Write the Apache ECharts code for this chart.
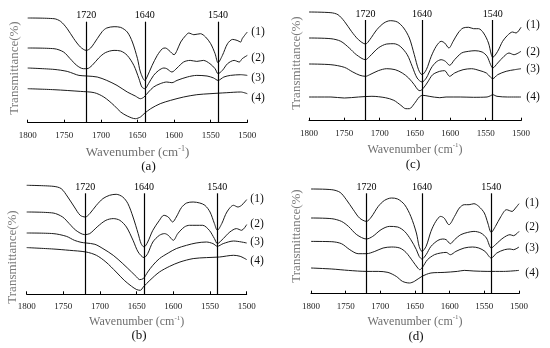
<!DOCTYPE html>
<html>
<head>
<meta charset="utf-8">
<script src="https://cdn.jsdelivr.net/npm/echarts@6/dist/echarts.min.js"></script>
<style>html,body{margin:0;padding:0;background:#fff}#c{width:550px;height:348px}</style>
</head>
<body>
<div id="c"></div>
<script>
// ---- data: [wavenumber (cm-1), relative transmittance (arb.)] ----
const a1 = [[1800,104.7],[1764,104],[1755,101.3],[1746,94],[1737,84],[1728,75.7],[1720,72.3],[1714,74.7],[1705,84],[1698,91.3],[1692,94.7],[1682,96],[1673,95.3],[1664,90.7],[1657,80.7],[1650,64],[1646,50.7],[1640,42.3],[1637,45.7],[1630,57.3],[1623,67.3],[1616,74],[1612,74.7],[1607,72.3],[1600,68],[1596,72.3],[1591,80.7],[1584,87.3],[1580,89.7],[1573,88],[1564,89],[1557,85.7],[1550,79],[1544,69],[1540,60],[1534,67.3],[1527,79],[1520,83.3],[1514,82.3],[1509,80.7],[1507,84],[1500,90.7]];
const a2 = [[1800,74.7],[1764,74],[1751,70.7],[1742,64],[1733,57.3],[1724,54],[1719,54],[1712,57.3],[1703,64.7],[1694,70],[1682,72.3],[1673,71.7],[1664,67.3],[1655,57.3],[1648,44],[1644,35.7],[1640,34],[1635,39],[1628,47.3],[1621,52.3],[1614,54.7],[1610,54],[1603,50.7],[1596,54.7],[1587,60.7],[1578,62.3],[1569,61.3],[1560,62.3],[1551,59],[1544,54],[1540,49],[1534,52.3],[1527,59],[1518,62.3],[1511,60.7],[1507,64],[1500,67.3]];
const a3 = [[1800,54.7],[1764,53.3],[1746,51.3],[1737,49],[1730,47.3],[1719,46.7],[1705,45.7],[1692,42.3],[1678,37.3],[1664,30.7],[1653,26.7],[1646,24],[1641,25.7],[1635,30.7],[1628,35.7],[1619,39],[1610,40.7],[1603,40],[1596,42.3],[1582,45.7],[1569,47.3],[1555,46.7],[1546,44.7],[1540,42.3],[1532,45.7],[1523,47.3],[1509,48],[1500,47.3]];
const a4 = [[1800,34],[1764,33],[1728,31.3],[1709,30],[1696,25.7],[1682,17.3],[1673,10.7],[1664,6.7],[1653,4],[1646,5.7],[1641,9],[1632,14],[1619,19],[1605,22.3],[1587,25.7],[1569,28],[1551,29],[1528,30],[1509,30.7],[1500,29]];

const b1 = [[1800,109],[1764,108],[1753,105.7],[1744,97.3],[1735,87.3],[1727,79],[1720,77.3],[1714,80.7],[1705,89],[1696,95.7],[1687,99],[1678,100],[1669,97.3],[1662,90.7],[1655,77.3],[1648,60.7],[1644,50.7],[1640,47.3],[1635,52.3],[1628,64],[1619,74],[1613,79],[1607,77.3],[1601,72.3],[1596,77.3],[1589,86.7],[1582,91.3],[1573,92.3],[1564,91.3],[1557,89],[1550,82.3],[1544,70.7],[1540,64],[1534,70.7],[1527,82.3],[1518,89],[1512,87.3],[1507,89],[1500,94.7]];
const b2 = [[1800,82.3],[1764,81.3],[1751,77.3],[1742,70.7],[1733,64],[1721,59.7],[1714,60.7],[1703,68],[1692,74],[1682,75.7],[1673,74],[1664,67.3],[1655,54],[1648,42.3],[1640,36.7],[1635,40.7],[1628,52.3],[1619,59],[1612,60.7],[1607,59],[1600,54],[1594,60.7],[1585,67.3],[1578,69],[1569,69],[1560,69],[1551,64],[1544,55.7],[1540,50.7],[1532,55.7],[1523,62.3],[1514,65.7],[1507,64],[1500,69.7]];
const b3 = [[1800,61.3],[1764,60.7],[1746,58],[1735,54],[1726,52],[1719,51.3],[1707,50],[1696,45.7],[1682,39],[1669,30.7],[1657,22.3],[1650,17.3],[1646,14.7],[1641,15.7],[1635,22.3],[1628,29],[1619,35.7],[1607,41.3],[1596,45.7],[1582,49],[1569,51.3],[1555,52.3],[1546,50.7],[1540,48],[1532,50.7],[1518,53.3],[1500,51.3]];
const b4 = [[1800,46.7],[1764,45.3],[1742,44],[1719,42.3],[1705,39],[1692,32.3],[1678,22.3],[1667,14],[1657,8],[1650,4.7],[1645,4],[1641,7.3],[1632,14],[1619,22.3],[1605,28],[1591,32.3],[1573,35.7],[1555,36.7],[1537,37.3],[1518,39],[1509,38],[1500,34.7]];

const c1 = [[1800,110],[1769,109.3],[1759,107.3],[1750,100.7],[1740,90.7],[1730,82.3],[1720,78],[1714,82.3],[1704,92.3],[1694,99],[1685,101.3],[1675,100],[1666,94],[1658,84],[1651,67.3],[1645,52.3],[1640,47.3],[1634,52.3],[1627,65.7],[1620,75.7],[1613,80.7],[1608,79],[1602,74],[1596,80.7],[1589,89],[1582,94],[1574,94.7],[1567,93.3],[1560,93.3],[1553,89],[1546,79],[1542,67.3],[1540,64.7],[1533,70.7],[1526,80.7],[1519,86.7],[1512,90],[1507,89],[1500,94.7]];
const c2 = [[1800,84],[1769,83.3],[1755,80.7],[1743,74],[1733,67.3],[1720,62.3],[1714,65.7],[1702,74],[1690,78],[1680,78.3],[1671,75.7],[1661,67.3],[1654,55.7],[1647,44],[1640,40],[1634,44],[1627,54],[1620,60],[1613,62.3],[1607,60.7],[1601,56.7],[1594,62.3],[1584,69],[1574,70.7],[1565,71.3],[1555,70],[1548,65.7],[1543,57.3],[1540,54],[1533,59],[1524,65.7],[1517,69],[1510,67.3],[1500,70.7]];
const c3 = [[1800,58],[1769,57.3],[1750,54.7],[1738,50],[1728,46.7],[1720,45.7],[1714,47.3],[1702,51.3],[1690,53.3],[1678,52.3],[1668,49],[1659,44],[1651,37.3],[1646,32.3],[1643,31.3],[1638,34],[1632,40],[1625,47.3],[1615,50.7],[1608,51.3],[1601,45.7],[1594,49],[1582,52.3],[1570,53.3],[1558,51.3],[1549,49],[1543,44.7],[1540,43.3],[1533,47.3],[1521,50.7],[1509,52.3],[1500,53.3]];
const c4 = [[1800,25],[1769,25],[1750,24],[1730,25],[1711,25.7],[1692,24.3],[1680,21.7],[1670,16.7],[1663,13.3],[1658,13.3],[1651,18.3],[1644,25],[1639,26.7],[1630,25.7],[1615,24.3],[1606,25],[1586,25],[1567,24.7],[1548,25],[1543,26.3],[1540,27.3],[1534,25.7],[1519,25],[1500,25]];

const d1 = [[1800,104.7],[1770,104],[1758,101.3],[1749,94],[1739,84],[1730,75.7],[1720,72.3],[1713,76.7],[1703,87.3],[1694,93.3],[1684,95.7],[1675,94.7],[1665,89],[1656,77.3],[1648,60.7],[1644,47.3],[1640,42.3],[1634,47.3],[1627,62.3],[1620,72.3],[1613,77.3],[1608,75.7],[1601,69],[1593,77.3],[1586,85.7],[1579,89],[1572,89],[1565,90],[1558,87.3],[1550,80.7],[1545,70.7],[1540,61.3],[1534,67.3],[1526,77.3],[1518,84],[1510,82.3],[1505,85.7],[1500,90]];
const d2 = [[1800,75.7],[1770,75],[1756,72.3],[1746,67.3],[1734,59],[1720,54.7],[1711,57.3],[1699,64],[1687,67.3],[1675,66.7],[1665,62.3],[1656,54],[1648,44],[1644,37.3],[1640,34.7],[1634,39],[1627,47.3],[1617,53.3],[1610,54.7],[1605,54],[1599,50],[1593,54],[1584,59],[1574,61.3],[1565,62.3],[1555,60.7],[1547,55.7],[1540,45.7],[1534,49],[1523,55.7],[1513,59],[1508,58],[1500,62.3]];
const d3 = [[1800,52.3],[1770,52],[1756,50],[1744,44],[1732,40],[1720,40],[1708,42.3],[1696,45.7],[1684,46.7],[1672,45.7],[1663,41.3],[1653,32.3],[1646,25.7],[1643,24],[1639,26.7],[1632,34],[1622,39],[1613,40.7],[1605,41.3],[1599,39],[1591,42.3],[1579,45.7],[1567,46.7],[1558,45.7],[1549,42.3],[1540,35.7],[1532,40.7],[1521,44],[1513,44.7],[1508,44],[1500,46.7]];
const d4 = [[1800,25.7],[1770,24.7],[1746,23.3],[1720,22.3],[1703,22.3],[1689,21.3],[1677,17.3],[1668,12.3],[1658,10.7],[1651,12.3],[1640,17.3],[1627,20.7],[1608,21.3],[1589,22.3],[1579,23.3],[1565,22.7],[1546,22.3],[1522,22.3],[1500,23.3]];

const markers = [1720, 1640, 1540];
const curveNames = ['(1)', '(2)', '(3)', '(4)'];
const panelLetters = ['(a)', '(b)', '(c)', '(d)'];
const xTitle = 'Wavenumber (cm';
const yTitle = 'Transmittance(%)';

// ---- layout (positions / sizes only) ----
const SERIF = "'Liberation Serif','DejaVu Serif',serif";
const layout = [
  {grid:{left:27.7, width:219.6, top:10.7, height:112}, ymin:0,   lineTop:101,   nameFont:13, nameGap:22,
   letter:[148.5,167], yLab:[15,68],  labX:258, labY:[31.7,58.3,78.3,98.3]},
  {grid:{left:26.7, width:220,   top:182.3,height:112}, ymin:0,   lineTop:101,   nameFont:12, nameGap:20,
   letter:[139,336],   yLab:[13,257], labX:257, labY:[199,224,242,260.7]},
  {grid:{left:309,  width:212,   top:8.7,  height:112}, ymin:1.3, lineTop:100.7, nameFont:12, nameGap:21,
   letter:[413,165],   yLab:[297,63], labX:533, labY:[25,51.7,69.3,97.3]},
  {grid:{left:311,  width:208,   top:181.7,height:112}, ymin:0,   lineTop:100.4, nameFont:12, nameGap:20,
   letter:[416,337],   yLab:[297,236],labX:532, labY:[203.3,227.3,248,273.3]}
];
const curves = [[a1,a2,a3,a4],[b1,b2,b3,b4],[c1,c2,c3,c4],[d1,d2,d3,d4]];

const grids = [], xAxes = [], yAxes = [], series = [], graphics = [];
layout.forEach((L, i) => {
  grids.push(L.grid);
  xAxes.push({
    type:'value', gridIndex:i, min:1500, max:1800, interval:50, inverse:true,
    axisLine:{show:true, lineStyle:{color:'#000', width:1}},
    axisTick:{show:true, inside:true, length:3, lineStyle:{color:'#000', width:1}},
    axisLabel:{fontSize:9, color:'#222', margin:8, fontFamily:SERIF, showMinLabel:true, showMaxLabel:true,
      formatter: v => String(v)},
    splitLine:{show:false},
    name: '{m|' + xTitle + '}{s|-1}{m|)}',
    nameLocation:'middle', nameGap:L.nameGap,
    nameTextStyle:{
      rich:{
        m:{fontSize:L.nameFont, color:'#6e6e6e', fontFamily:SERIF, lineHeight:14, verticalAlign:'bottom'},
        s:{fontSize:Math.round(L.nameFont*0.62), color:'#6e6e6e', fontFamily:SERIF, lineHeight:14, verticalAlign:'top'}
      }
    }
  });
  yAxes.push({type:'value', gridIndex:i, min:L.ymin, max:L.ymin+112, show:false});
  curves[i].forEach((data, k) => {
    const s = {
      type:'line', xAxisIndex:i, yAxisIndex:i, data:data, showSymbol:false, symbol:'none',
      smooth:0.3, silent:true, animation:false, clip:false,
      lineStyle:{color:'#1c1c1c', width:1}
    };
    if (k === 0) {
      s.markLine = {
        silent:true, symbol:['none','none'], animation:false,
        lineStyle:{color:'#000', width:1.2, type:'solid'},
        label:{show:true, position:'end', formatter:'{b}', distance:1, fontSize:10, color:'#000', fontFamily:SERIF},
        data: markers.map(m => [{name:String(m), coord:[m, L.ymin]}, {coord:[m, L.ymin + L.lineTop]}])
      };
    }
    series.push(s);
  });
  graphics.push({type:'text', x:L.letter[0], y:L.letter[1], silent:true,
    style:{text:panelLetters[i], font:'13px ' + SERIF, fill:'#111', textAlign:'center', textVerticalAlign:'middle'}});
  graphics.push({type:'text', x:L.yLab[0], y:L.yLab[1], rotation:Math.PI/2, silent:true,
    style:{text:yTitle, font:'13px ' + SERIF, fill:'#7a7a7a', textAlign:'center', textVerticalAlign:'middle'}});
  curveNames.forEach((nm, k) => {
    graphics.push({type:'text', x:L.labX, y:L.labY[k], silent:true,
      style:{text:nm, font:'11.5px ' + SERIF, fill:'#111', textAlign:'center', textVerticalAlign:'middle'}});
  });
});

const chart = echarts.init(document.getElementById('c'), null, {renderer:'canvas'});
chart.setOption({
  animation:false,
  backgroundColor:'#fff',
  grid:grids, xAxis:xAxes, yAxis:yAxes, series:series, graphic:graphics
});
</script>
</body>
</html>
